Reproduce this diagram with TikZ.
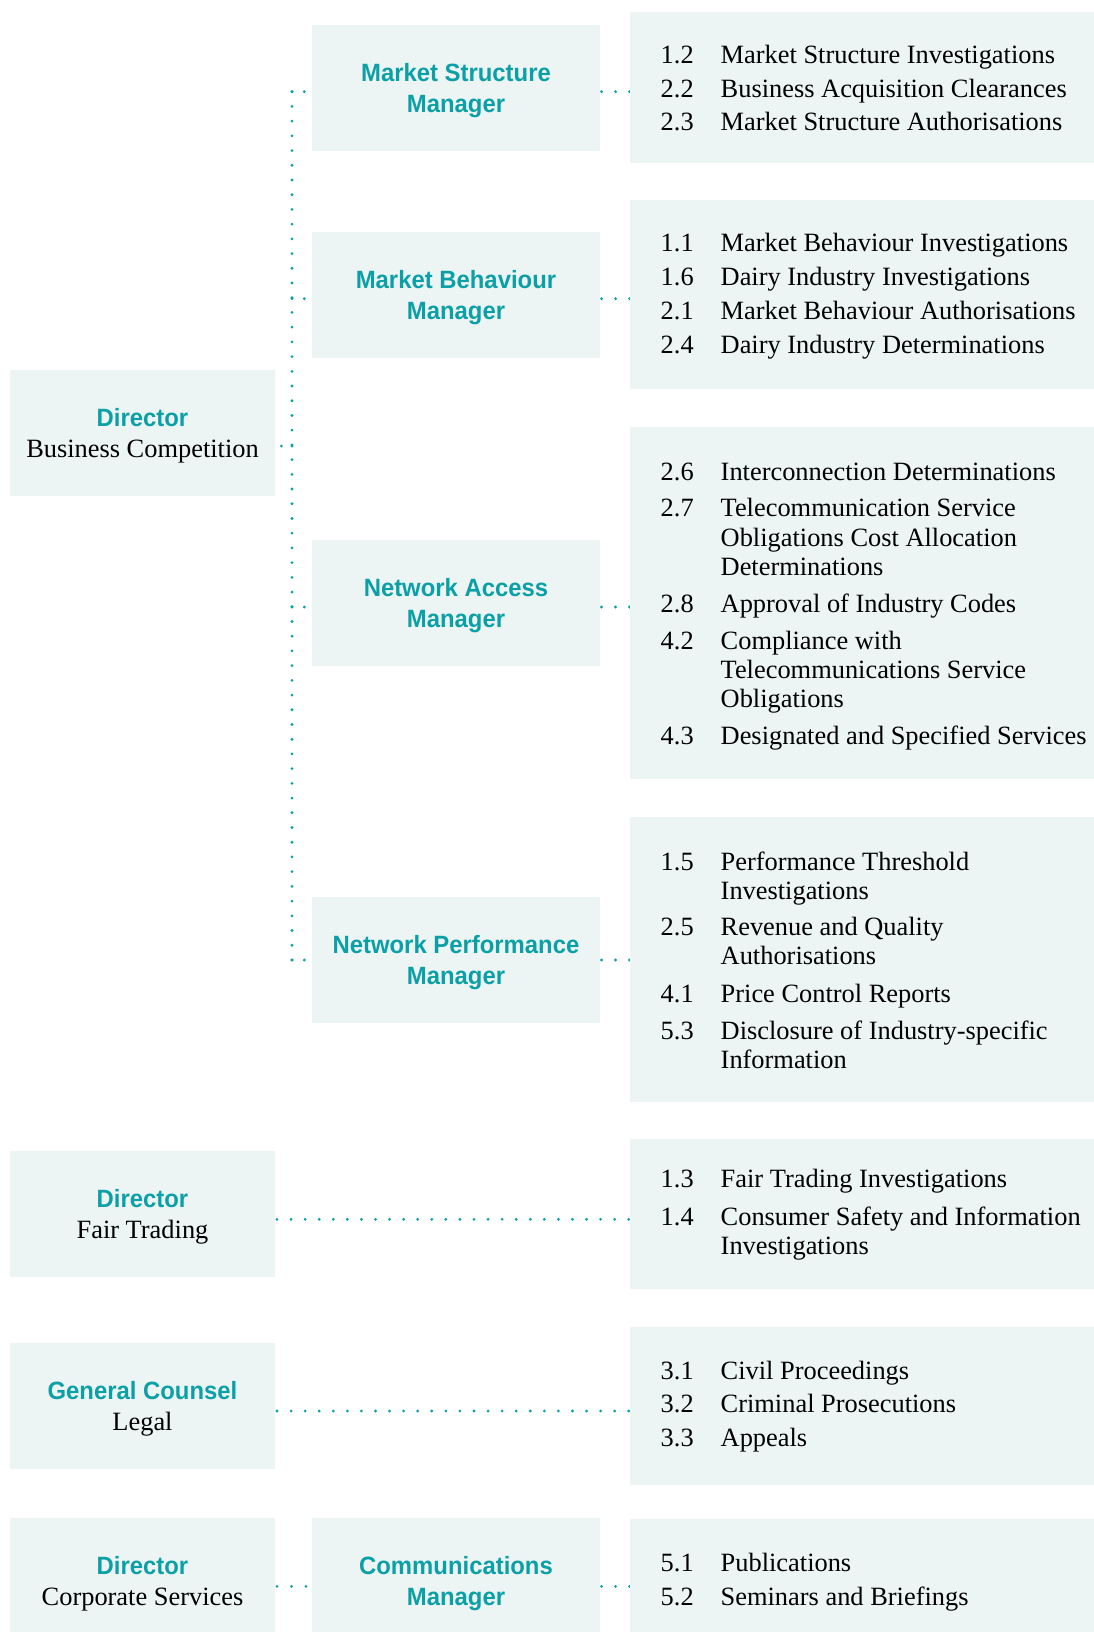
\documentclass[tikz,border=0pt]{standalone}
\usepackage{fontspec}
\setmainfont{Liberation Serif}
\newfontfamily\headfont[FakeStretch=0.955]{Liberation Sans}
\usetikzlibrary{backgrounds}

\definecolor{brandteal}{HTML}{0BA0A6}
\definecolor{paneltint}{HTML}{EDF4F4}

% teal bold sans heading text
\newcommand{\hd}[1]{{\fontsize{25}{31}\headfont\bfseries\color{brandteal}#1}}
% body serif size
\newcommand{\bodysize}{\fontsize{26.4}{29.3}\selectfont}
% two centred lines, baseline = first line
\newcommand{\twoline}[2]{\parbox[t]{280pt}{\centering\fontsize{26.4}{31}\selectfont\leavevmode #1\\#2}}

\tikzset{
  panel/.style={fill=paneltint, draw=none, inner sep=0pt, outer sep=0pt, rectangle},
  lab/.style={anchor=base, inner sep=0pt},
  num/.style={anchor=base west, inner sep=0pt, font=\bodysize},
  desc/.style={anchor=base west, inner sep=0pt},
  dots/.style={draw=brandteal, line width=3.1pt, line cap=round},
}
% numbered responsibility: name, baseline, number, text
\newcommand{\itm}[4]{%
  \node[num] (n#1) at (660.5,#2) {#3};
  \node[desc] (t#1) at (720.5,#2) {\parbox[t]{370pt}{\raggedright\bodysize\leavevmode #4}};}

\begin{document}
\begin{tikzpicture}[x=1pt,y=-1pt]
\useasboundingbox (0,0) rectangle (1094,1632);

% ---- left column: directors
\node[panel, minimum width=265pt, minimum height=126pt] (bc) at (142.5,433) {};
\node[panel, minimum width=265pt, minimum height=126pt] (ft) at (142.5,1214.2) {};
\node[panel, minimum width=265pt, minimum height=126pt] (gc) at (142.5,1406) {};
\node[panel, minimum width=265pt, minimum height=114pt] (cs) at (142.5,1575) {};

\node[lab] (bcl) at (142.5,426.7) {\twoline{\hd{Director}}{Business Competition}};
\node[lab] (ftl) at (142.5,1207.9) {\twoline{\hd{Director}}{Fair Trading}};
\node[lab] (gcl) at (142.5,1399.7) {\twoline{\hd{General Counsel}}{Legal}};
\node[lab] (csl) at (142.5,1574.5) {\twoline{\hd{Director}}{Corporate Services}};

% ---- middle column: managers
\node[panel, minimum width=288pt, minimum height=126pt] (ms) at (456,88) {};
\node[panel, minimum width=288pt, minimum height=126pt] (mb) at (456,294.6) {};
\node[panel, minimum width=288pt, minimum height=126pt] (na) at (456,602.7) {};
\node[panel, minimum width=288pt, minimum height=126pt] (np) at (456,959.7) {};
\node[panel, minimum width=288pt, minimum height=114pt] (cm) at (456,1575) {};

\node[lab] (msl) at (456,81.7) {\twoline{\hd{Market Structure}}{\hd{Manager}}};
\node[lab] (mbl) at (456,288.3) {\twoline{\hd{Market Behaviour}}{\hd{Manager}}};
\node[lab] (nal) at (456,596.4) {\twoline{\hd{Network Access}}{\hd{Manager}}};
\node[lab] (npl) at (456,953.4) {\twoline{\hd{Network Performance}}{\hd{Manager}}};
\node[lab] (cml) at (456,1574.5) {\twoline{\hd{Communications}}{\hd{Manager}}};

% ---- right column: responsibilities
\node[panel, minimum width=464pt, minimum height=150.7pt] (r1) at (862,87.35) {};
\node[panel, minimum width=464pt, minimum height=189pt] (r2) at (862,294.5) {};
\node[panel, minimum width=464pt, minimum height=351.7pt] (r3) at (862,603.15) {};
\node[panel, minimum width=464pt, minimum height=285.3pt] (r4) at (862,959.65) {};
\node[panel, minimum width=464pt, minimum height=150.3pt] (r5) at (862,1214.15) {};
\node[panel, minimum width=464pt, minimum height=157.7pt] (r6) at (862,1406.15) {};
\node[panel, minimum width=464pt, minimum height=113pt] (r7) at (862,1575.5) {};

\itm{12}{63.3}{1.2}{Market Structure Investigations}
\itm{22}{97.3}{2.2}{Business Acquisition Clearances}
\itm{23}{130.7}{2.3}{Market Structure Authorisations}

\itm{11}{251.7}{1.1}{Market Behaviour Investigations}
\itm{16}{285.7}{1.6}{Dairy Industry Investigations}
\itm{21}{319.3}{2.1}{Market Behaviour Authorisations}
\itm{24}{353.3}{2.4}{Dairy Industry Determinations}

\itm{26}{480.7}{2.6}{Interconnection Determinations}
\itm{27}{516.7}{2.7}{Telecommunication Service\\Obligations Cost Allocation\\Determinations}
\itm{28}{612.5}{2.8}{Approval of Industry Codes}
\itm{42}{649.3}{4.2}{Compliance with\\Telecommunications Service\\Obligations}
\itm{43}{744.5}{4.3}{Designated and Specified Services}

\itm{15}{870}{1.5}{Performance Threshold\\Investigations}
\itm{25}{935}{2.5}{Revenue and Quality\\Authorisations}
\itm{41}{1002.3}{4.1}{Price Control Reports}
\itm{53}{1039}{5.3}{Disclosure of Industry-specific\\Information}

\itm{13}{1187.7}{1.3}{Fair Trading Investigations}
\itm{14}{1225}{1.4}{Consumer Safety and Information\\Investigations}

\itm{31}{1379}{3.1}{Civil Proceedings}
\itm{32}{1412.7}{3.2}{Criminal Prosecutions}
\itm{33}{1446.7}{3.3}{Appeals}

\itm{51}{1571}{5.1}{Publications}
\itm{52}{1605}{5.2}{Seminars and Briefings}

% ---- junction points of the dotted reporting lines
\coordinate (jms) at (292,91.7);
\coordinate (jmb) at (292,298.7);
\coordinate (jbc) at (292,446);
\coordinate (jna) at (292,607);
\coordinate (jnp) at (292,960);
\coordinate (jft) at (0,1219.3);
\coordinate (jgc) at (0,1411);
\coordinate (jcs) at (0,1586.3);

\begin{scope}[on background layer]
  % trunk
  \draw[dots, dash pattern=on 0pt off 14.716pt] (jms) -- (jnp);
  % director to trunk
  \draw[dots, dash pattern=on 0pt off 10.6pt] (jbc) -- (jbc -| bc.east);
  % trunk to managers
  \foreach \j/\m in {jms/ms, jmb/mb, jna/na, jnp/np}
    \draw[dots, dash pattern=on 0pt off 12.3pt] (\j) -- (\j -| \m.west);
  % managers to responsibilities
  \foreach \j/\m/\r in {jms/ms/r1, jmb/mb/r2, jna/na/r3, jnp/np/r4, jcs/cm/r7}
    \draw[dots, dash pattern=on 0pt off 14pt, shorten <=1.5pt] (\j -| \m.east) -- (\j -| \r.west);
  % directors straight to responsibilities
  \draw[dots, dash pattern=on 0pt off 14.07pt, shorten <=2pt, shorten >=1pt] (jft -| ft.east) -- (jft -| r5.west);
  \draw[dots, dash pattern=on 0pt off 14.07pt, shorten <=2pt, shorten >=1pt] (jgc -| gc.east) -- (jgc -| r6.west);
  % corporate services to communications
  \draw[dots, dash pattern=on 0pt off 14.5pt, shorten <=2pt] (jcs -| cs.east) -- (jcs -| cm.west);
\end{scope}
\end{tikzpicture}
\end{document}
